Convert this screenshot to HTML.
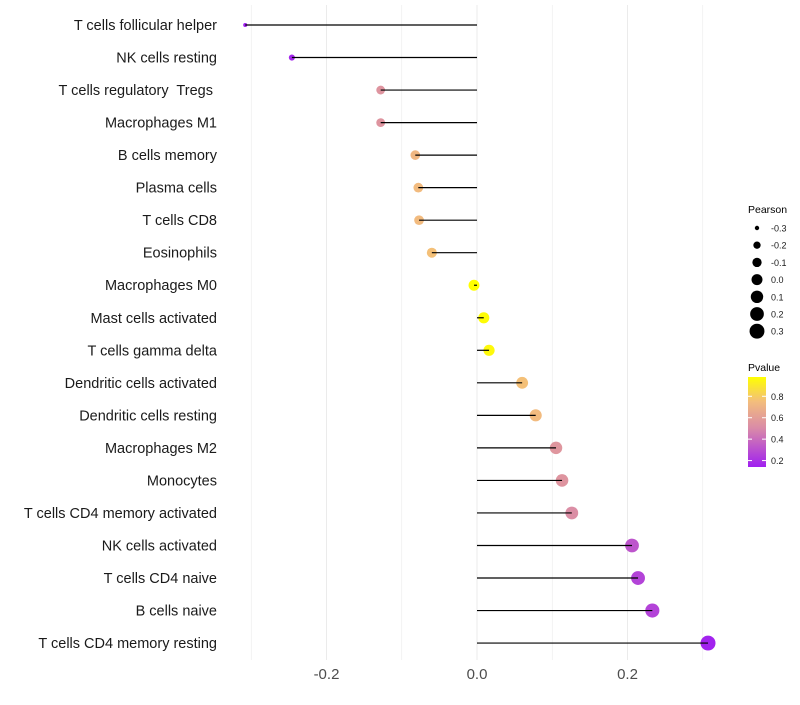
<!DOCTYPE html>
<html><head><meta charset="utf-8"><style>
body{margin:0;background:#fff;font-family:"Liberation Sans",sans-serif}
text{white-space:pre}
</style></head><body>
<svg id="c" width="800" height="700" xmlns="http://www.w3.org/2000/svg"></svg>
<script>
const categories=["T cells follicular helper","NK cells resting","T cells regulatory  Tregs ","Macrophages M1","B cells memory","Plasma cells","T cells CD8","Eosinophils","Macrophages M0","Mast cells activated","T cells gamma delta","Dendritic cells activated","Dendritic cells resting","Macrophages M2","Monocytes","T cells CD4 memory activated","NK cells activated","T cells CD4 naive","B cells naive","T cells CD4 memory resting"];
const pearson=[-0.308,-0.246,-0.128,-0.128,-0.082,-0.078,-0.077,-0.060,-0.004,0.009,0.016,0.060,0.078,0.105,0.113,0.126,0.206,0.214,0.233,0.307];
const pvalues=[0.14,0.16,0.55,0.55,0.72,0.74,0.74,0.76,0.98,0.97,0.96,0.76,0.74,0.56,0.55,0.52,0.32,0.26,0.26,0.15];
const xTicks=[-0.2,0,0.2];
const sizeLegend=[-0.3,-0.2,-0.1,0.0,0.1,0.2,0.3];
const colorTicks=[0.2,0.4,0.6,0.8];
const NS="http://www.w3.org/2000/svg";
const svg=document.getElementById('c');
const x=v=>477+v*752.5;
const y=i=>25+i*32.53;
const r=v=>Math.sqrt(4+52*Math.max(0,(v+0.31))/0.617);
const stops=[[0.14,[160,32,240]],[0.5,[217,138,168]],[0.75,[243,189,125]],[0.98,[255,255,0]]];
function col(p){p=Math.max(0.14,Math.min(0.98,p));for(let k=0;k<stops.length-1;k++){const a=stops[k],b=stops[k+1];if(p<=b[0]){const t=(p-a[0])/(b[0]-a[0]);return 'rgb('+a[1].map((c,j)=>Math.round(c+(b[1][j]-c)*t)).join(',')+')';}}return 'rgb(255,255,0)';}
function el(t,a,p){const e=document.createElementNS(NS,t);for(const k in a)e.setAttribute(k,a[k]);(p||svg).appendChild(e);return e;}
for(let v=-0.3;v<=0.31;v+=0.1){const g=el('line',{x1:x(v),x2:x(v),y1:5,y2:660,stroke:'#ebebeb','stroke-width':Math.abs(Math.round(v*10))%2==0?1:0.6});

}
xTicks.forEach(v=>{const t=el('text',{x:x(v),y:679,'text-anchor':'middle','font-size':15,fill:'#4d4d4d'});t.textContent=v===0?'0.0':v.toFixed(1);

});
categories.forEach((c,i)=>{
const t=el('text',{x:217,y:y(i)+5,'text-anchor':'end','font-size':14.5,fill:'#1a1a1a'});t.textContent=c;


const d=el('circle',{cx:x(pearson[i]),cy:y(i),r:r(pearson[i]),fill:col(pvalues[i])});


const l=el('line',{x1:x(0),x2:x(pearson[i]),y1:y(i),y2:y(i),stroke:'#000','stroke-width':1.2});


});
const lt=el('text',{x:748,y:213,'font-size':10.5,fill:'#000'});lt.textContent='Pearson';


sizeLegend.forEach((v,i)=>{const cy=228+i*17.2;
const c=el('circle',{cx:757,cy:cy,r:r(v),fill:'#000'});


const t=el('text',{x:771,y:cy+3.5,'font-size':9,fill:'#1a1a1a'});t.textContent=v.toFixed(1);

});
const pt=el('text',{x:748,y:371,'font-size':10.5,fill:'#000'});pt.textContent='Pvalue';


const defs=el('defs',{});const lg=el('linearGradient',{id:'g',x1:0,y1:1,x2:0,y2:0},defs);
stops.forEach(s=>el('stop',{offset:(s[0]-0.14)/0.84,'stop-color':col(s[0])},lg));
const bar=el('rect',{x:748,y:377,width:18,height:90,fill:'url(#g)'});


const cy=p=>467-(p-0.14)/0.84*90;
colorTicks.forEach(p=>{el('line',{x1:748,x2:752,y1:cy(p),y2:cy(p),stroke:'#fff'});el('line',{x1:762,x2:766,y1:cy(p),y2:cy(p),stroke:'#fff'});
const t=el('text',{x:771,y:cy(p)+3.5,'font-size':9,fill:'#1a1a1a'});t.textContent=p.toFixed(1);

});
</script>
</body></html>
